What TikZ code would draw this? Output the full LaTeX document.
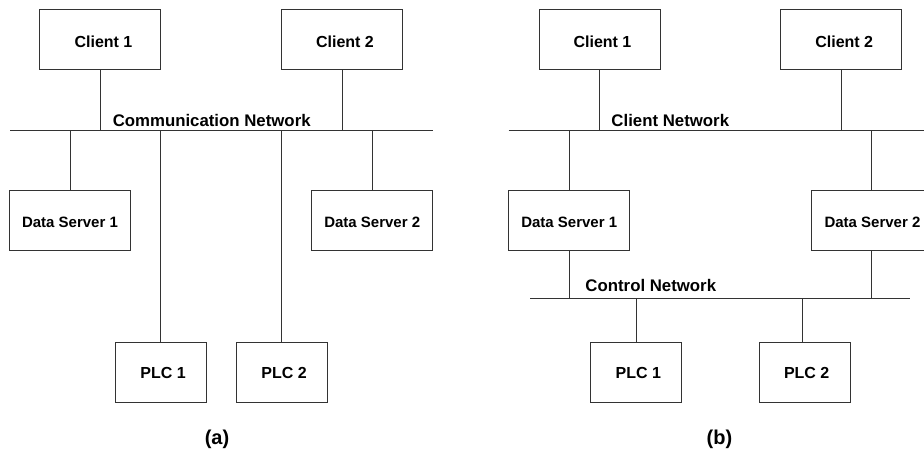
\documentclass[tikz,border=0pt]{standalone}
\usepackage{fontspec}
\setmainfont{Liberation Sans}
\begin{document}
\begin{tikzpicture}[x=1pt,y=-1pt,
  line width=0.9pt,
  wire/.style={draw=black!80},
  box/.style={draw=black!80, minimum width=#1, minimum height=60pt, inner sep=0pt},
  box/.default=121pt,
  lbl/.style={font=\bfseries\fontsize{16}{18}\selectfont, inner sep=0pt},
  dslbl/.style={font=\bfseries\fontsize{15}{17}\selectfont, inner sep=0pt},
  netlbl/.style={font=\bfseries\fontsize{16.8}{19}\selectfont, inner sep=0pt},
  caplbl/.style={font=\bfseries\fontsize{20}{22}\selectfont, inner sep=0pt}]
\useasboundingbox (0,0) rectangle (924,456);
\clip (0,0) rectangle (924,456);

% ---------- (a) ----------
\node[box] (c1a) at (100.3,39.3) {};
\node[lbl] (c1at) at (103.5,41.5) {Client 1};
\node[box] (c2a) at (342,39.3) {};
\node[lbl] (c2at) at (345,41.5) {Client 2};
\coordinate (busAL) at (10,130);
\coordinate (busAR) at (432.7,130);
\draw[wire] (busAL) -- (busAR);
\node[netlbl] (netA) at (211.7,120) {Communication Network};
\node[box] (d1a) at (70,220.8) {};
\node[dslbl] (d1at) at (70,222.8) {Data Server 1};
\node[box] (d2a) at (372.2,220.8) {};
\node[dslbl] (d2at) at (372.2,222.8) {Data Server 2};
\node[box=91pt] (p1a) at (160.8,372) {};
\node[lbl] (p1at) at (163,373.3) {PLC 1};
\node[box=91pt] (p2a) at (281.8,372) {};
\node[lbl] (p2at) at (284,373.3) {PLC 2};
\draw[wire] (c1a.south) -- (c1a.south |- busAL);
\draw[wire] (c2a.south) -- (c2a.south |- busAL);
\draw[wire] (d1a.north) -- (d1a.north |- busAL);
\draw[wire] (d2a.north) -- (d2a.north |- busAL);
\draw[wire] (p1a.north) -- (p1a.north |- busAL);
\draw[wire] (p2a.north) -- (p2a.north |- busAL);
\node[caplbl] (capa) at (217,439) {(a)};

% ---------- (b) ----------
\node[box] (c1b) at (599.5,39.3) {};
\node[lbl] (c1bt) at (602.5,41.5) {Client 1};
\node[box] (c2b) at (841.2,39.3) {};
\node[lbl] (c2bt) at (844.2,41.5) {Client 2};
\coordinate (busBL) at (508.7,130);
\coordinate (busBR) at (924,130);
\draw[wire] (busBL) -- (busBR);
\node[netlbl] (netB) at (670.3,120) {Client Network};
\node[box] (d1b) at (569.2,220.8) {};
\node[dslbl] (d1bt) at (569.2,222.8) {Data Server 1};
\node[box] (d2b) at (871.5,220.8) {};
\node[dslbl] (d2bt) at (872.5,222.8) {Data Server 2};
\coordinate (busCL) at (530.3,298.3);
\coordinate (busCR) at (910.3,298.3);
\draw[wire] (busCL) -- (busCR);
\node[netlbl] (netC) at (650.8,285.8) {Control Network};
\node[box=91pt] (p1b) at (636.2,372) {};
\node[lbl] (p1bt) at (638.4,373.3) {PLC 1};
\node[box=91pt] (p2b) at (804.5,372) {};
\node[lbl] (p2bt) at (806.7,373.3) {PLC 2};
\draw[wire] (c1b.south) -- (c1b.south |- busBL);
\draw[wire] (c2b.south) -- (c2b.south |- busBL);
\draw[wire] (d1b.north) -- (d1b.north |- busBL);
\draw[wire] (d2b.north) -- (d2b.north |- busBL);
\draw[wire] (d1b.south) -- (d1b.south |- busCL);
\draw[wire] (d2b.south) -- (d2b.south |- busCL);
\draw[wire] ([xshift=-0.2pt]p1b.north) -- ([xshift=-0.2pt]p1b.north |- busCL);
\draw[wire] ([xshift=-2.2pt]p2b.north) -- ([xshift=-2.2pt]p2b.north |- busCL);
\node[caplbl] (capb) at (719.5,439) {(b)};
\end{tikzpicture}
\end{document}
